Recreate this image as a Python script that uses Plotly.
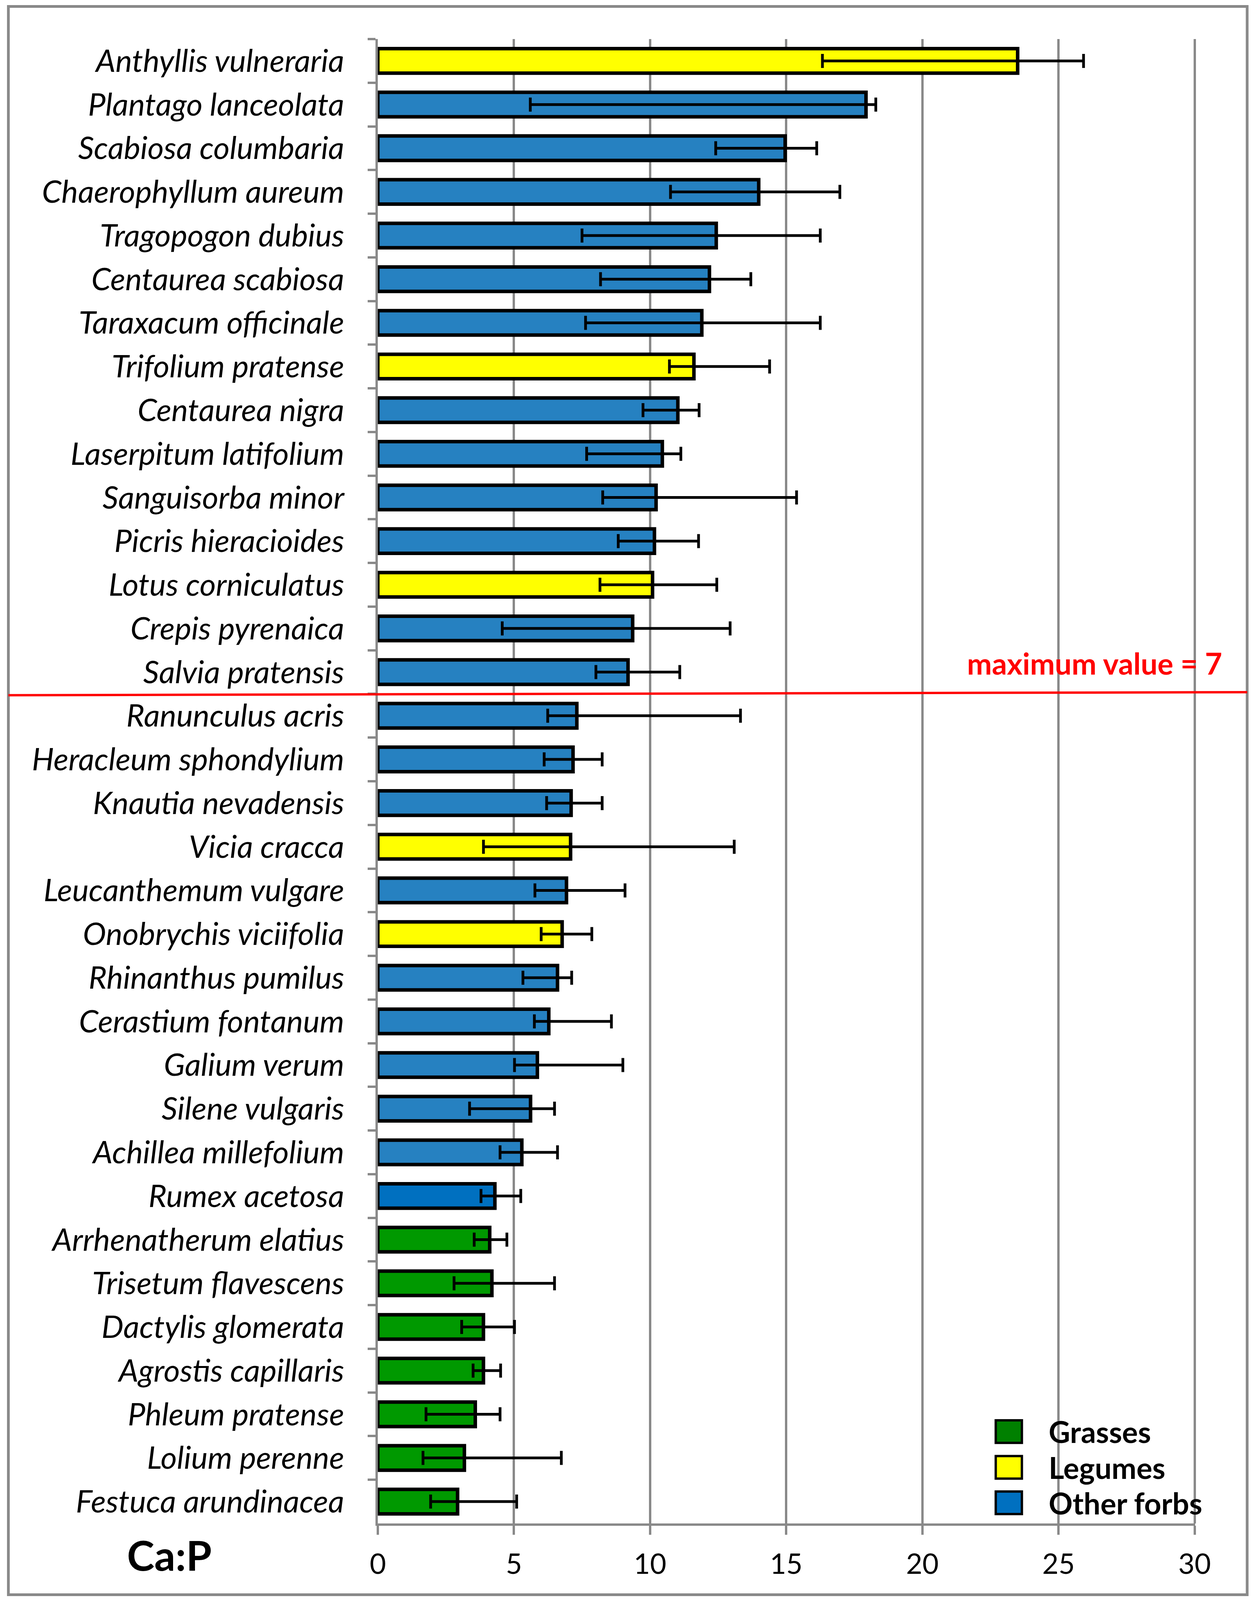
import plotly.graph_objects as go

# species, from top to bottom
species = [
    'Anthyllis vulneraria', 'Plantago lanceolata', 'Scabiosa columbaria',
    'Chaerophyllum aureum', 'Tragopogon dubius', 'Centaurea scabiosa',
    'Taraxacum officinale', 'Trifolium pratense', 'Centaurea nigra',
    'Laserpitum latifolium', 'Sanguisorba minor', 'Picris hieracioides',
    'Lotus corniculatus', 'Crepis pyrenaica', 'Salvia pratensis',
    'Ranunculus acris', 'Heracleum sphondylium', 'Knautia nevadensis',
    'Vicia cracca', 'Leucanthemum vulgare', 'Onobrychis viciifolia',
    'Rhinanthus pumilus', 'Cerastium fontanum', 'Galium verum',
    'Silene vulgaris', 'Achillea millefolium', 'Rumex acetosa',
    'Arrhenatherum elatius', 'Trisetum flavescens', 'Dactylis glomerata',
    'Agrostis capillaris', 'Phleum pratense', 'Lolium perenne',
    'Festuca arundinacea',
]
ca_p = [23.5, 17.93, 14.96, 13.99, 12.43, 12.18, 11.9, 11.61, 11.02, 10.45,
        10.22, 10.16, 10.09, 9.36, 9.19, 7.31, 7.17, 7.10, 7.08, 6.93,
        6.77, 6.6, 6.28, 5.86, 5.61, 5.29, 4.3, 4.11, 4.19, 3.88,
        3.88, 3.58, 3.18, 2.93]
err_low = [16.33, 5.6, 12.41, 10.75, 7.5, 8.18, 7.63, 10.71, 9.74, 7.67,
           8.26, 8.83, 8.16, 4.57, 8.01, 6.24, 6.11, 6.2, 3.88, 5.77,
           6.0, 5.33, 5.75, 5.02, 3.37, 4.49, 3.79, 3.54, 2.8, 3.08,
           3.5, 1.77, 1.66, 1.94]
err_high = [25.92, 18.29, 16.12, 16.97, 16.25, 13.70, 16.25, 14.39, 11.8, 11.13,
            15.38, 11.78, 12.45, 12.94, 11.09, 13.32, 8.24, 8.24, 13.09, 9.08,
            7.86, 7.12, 8.58, 9.0, 6.49, 6.6, 5.25, 4.74, 6.49, 5.02,
            4.51, 4.49, 6.74, 5.1]
group = ['L', 'F', 'F', 'F', 'F', 'F', 'F', 'L', 'F', 'F',
         'F', 'F', 'L', 'F', 'F', 'F', 'F', 'F', 'L', 'F',
         'L', 'F', 'F', 'F', 'F', 'F', 'F2', 'G', 'G', 'G',
         'G', 'G', 'G', 'G']

max_value_label = 'maximum value = 7'
limit_row = 14.5  # between Salvia pratensis and Ranunculus acris

group_colors = {'L': '#FFFF00', 'F': '#2681C1', 'F2': '#0070C0', 'G': '#009900'}
legend_names = ['Grasses', 'Legumes', 'Other forbs']
legend_colors = ['#008000', '#FFFF00', '#0070C0']

GRAY = '#898989'
FONT = 'Lato'

bar_colors = [group_colors[g] for g in group]
plus = [h - v for h, v in zip(err_high, ca_p)]
minus = [v - l for l, v in zip(err_low, ca_p)]

trace = go.Bar(
    x=ca_p,
    y=species,
    orientation='h',
    marker=dict(color=bar_colors, line=dict(color='black', width=9)),
    error_x=dict(type='data', symmetric=False, array=plus, arrayminus=minus,
                 color='black', thickness=7, width=18),
    showlegend=False,
)

fig = go.Figure(data=[trace])

shapes = []
# outer frame
shapes.append(dict(type='rect', xref='paper', yref='paper',
                   x0=-0.452, x1=1.0636, y0=-0.048, y1=1.022,
                   line=dict(color=GRAY, width=7), layer='below'))
# red limit line
shapes.append(dict(type='line', xref='paper', yref='y',
                   x0=-0.452, x1=1.0636, y0=limit_row + 0.03, y1=limit_row - 0.04,
                   line=dict(color='#FF0000', width=6)))

annotations = [
    dict(text='<b>' + max_value_label + '</b>', xref='paper', yref='paper',
         x=1.034, y=0.5797, xanchor='right', yanchor='middle', showarrow=False,
         font=dict(family=FONT, size=76, color='#FF0000')),
    dict(text='<b>Ca:P</b>', xref='paper', yref='paper',
         x=-0.255, y=-0.021, xanchor='center', yanchor='middle', showarrow=False,
         font=dict(family=FONT, size=106, color='black')),
]

# legend drawn by hand so the swatches can be large
leg_y = [0.0619, 0.0378, 0.0139]
for name, col, yc in zip(legend_names, legend_colors, leg_y):
    shapes.append(dict(type='rect', xref='paper', yref='paper',
                       x0=0.756, x1=0.788, y0=yc - 0.0076, y1=yc + 0.0076,
                       fillcolor=col, line=dict(color='black', width=6)))
    annotations.append(dict(text='<b>' + name + '</b>', xref='paper', yref='paper',
                            x=0.820, y=yc, xanchor='left', yanchor='middle',
                            showarrow=False,
                            font=dict(family=FONT, size=76, color='black')))

# the browser only shows 4096 px of height, so the page is fitted to that
fig.update_layout(
    width=3191,
    height=4080,
    margin=dict(l=959, r=140, t=92, b=188, autoexpand=False),
    paper_bgcolor='white',
    plot_bgcolor='white',
    bargap=0.44,
    font=dict(family=FONT, color='black'),
    shapes=shapes,
    annotations=annotations,
    xaxis=dict(
        range=[0, 30.02],
        tickvals=[0, 5, 10, 15, 20, 25, 30],
        showgrid=True,
        gridcolor=GRAY,
        gridwidth=6,
        zeroline=False,
        showline=True,
        linecolor=GRAY,
        linewidth=6,
        ticks='outside',
        ticklen=23,
        tickwidth=6,
        tickcolor=GRAY,
        ticklabelstandoff=14,
        tickfont=dict(family=FONT, size=72, color='black'),
        automargin=False,
        fixedrange=True,
    ),
    yaxis=dict(
        autorange='reversed',
        showgrid=False,
        showline=True,
        linecolor=GRAY,
        linewidth=6,
        ticks='outside',
        tickson='boundaries',
        ticklen=20,
        tickwidth=6,
        tickcolor=GRAY,
        ticklabelstandoff=64,
        tickfont=dict(family=FONT, size=80, color='black', style='italic'),
        automargin=False,
        fixedrange=True,
    ),
)

fig.write_html('out.html')
